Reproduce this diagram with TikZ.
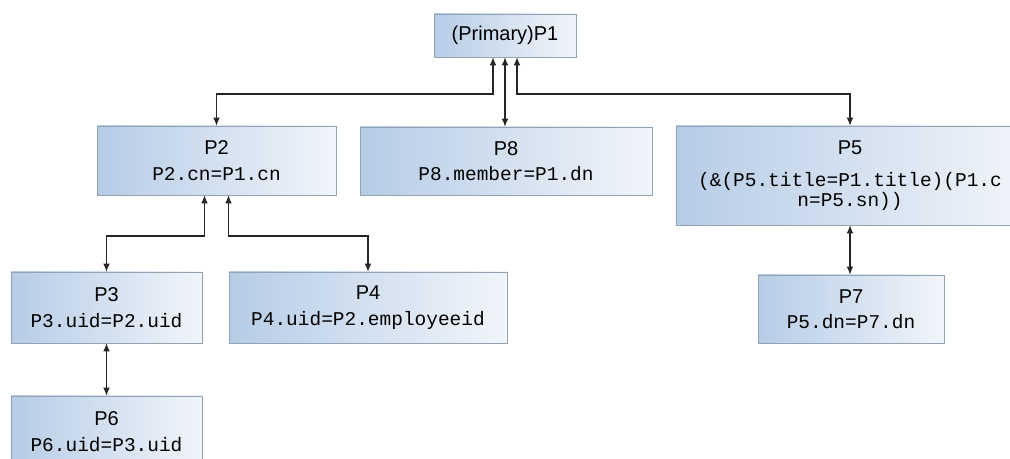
\documentclass[tikz,border=0pt]{standalone}
\usepackage{fontspec}
\setmainfont{Liberation Sans}
\setmonofont{Liberation Mono}
\usepackage{tikz}
\usetikzlibrary{arrows.meta, positioning, calc, shadows}
\definecolor{pleft}{HTML}{B6CCE6}
\definecolor{pright}{HTML}{F1F5FA}
\definecolor{pedge}{HTML}{93A3B4}
\definecolor{plinkgray}{HTML}{262626}
\tikzset{
  pbox/.style={draw=pedge, left color=pleft, right color=pright, line width=0.5pt,
               align=center, inner sep=2pt,
               drop shadow={shadow xshift=0.7pt, shadow yshift=-0.9pt, opacity=0.45, fill=black!70},
               font=\fontsize{15}{16}\selectfont},
  plink/.style={{Latex[length=6pt,width=5pt]}-{Latex[length=6pt,width=5pt]}, plinkgray, line width=0.8pt},
}
\newcommand{\pcode}[1]{{\fontsize{14.6}{14}\selectfont\ttfamily #1}}

\begin{document}
\begin{tikzpicture}[x=0.75pt, y=-0.75pt]

  %% page frame (the reference is cut off at the right and bottom)
  \useasboundingbox (0,0) rectangle (1010,459);
  \fill[white] (0,0) rectangle (1010,459);
  \clip (0,0) rectangle (1010,459);

  %% level 0
  \node[pbox, minimum width=106.5pt, minimum height=32.25pt] (p1) at (505,35.5) {(Primary)P1};

  %% level 1
  \node[pbox, minimum width=179.25pt, minimum height=51.75pt] (p2) at (216.5,160.5)
    {P2\\[3pt]\pcode{P2.cn=P1.cn}};
  \node[pbox, minimum width=219pt, minimum height=51pt] (p8) at (506,161)
    {P8\\[3pt]\pcode{P8.member=P1.dn}};
  \node[pbox, minimum width=261pt, minimum height=74.25pt] (p5) at (850,175.5)
    {P5\\[8pt]\pcode{(\&(P5.title=P1.title)(P1.c}\\[-0.5pt]\pcode{n=P5.sn))}};

  %% level 2
  \node[pbox, minimum width=143.25pt, minimum height=53.25pt] (p3) at (106.5,307.5)
    {P3\\[3pt]\pcode{P3.uid=P2.uid}};
  \node[pbox, minimum width=208.5pt, minimum height=53.25pt] (p4) at (368,307.5)
    {P4\\[3pt]\pcode{P4.uid=P2.employeeid}};
  \node[pbox, minimum width=139.5pt, minimum height=51pt] (p7) at (851,309)
    {P7\\[3pt]\pcode{P5.dn=P7.dn}};

  %% level 3
  \node[pbox, minimum width=143.25pt, minimum height=53.25pt] (p6) at (106.5,431.5)
    {P6\\[3pt]\pcode{P6.uid=P3.uid}};

  %% elbow rows
  \coordinate (rowA) at (0,94);
  \coordinate (rowB) at (0,236);

  %% links
  \draw[plink] ([xshift=-9pt]p1.south) |- (p2.north |- rowA) -- (p2.north);
  \draw[plink] (p1.south) -- (p1.south |- p8.north);
  \draw[plink] ([xshift=9pt]p1.south) |- (p5.north |- rowA) -- (p5.north);
  \draw[plink] ([xshift=-9pt]p2.south) |- (p3.north |- rowB) -- (p3.north);
  \draw[plink] ([xshift=9pt]p2.south) |- (p4.north |- rowB) -- (p4.north);
  \draw[plink] (p3.south) -- (p3.south |- p6.north);
  \draw[plink] (p5.south) -- (p5.south |- p7.north);

\end{tikzpicture}
\end{document}
